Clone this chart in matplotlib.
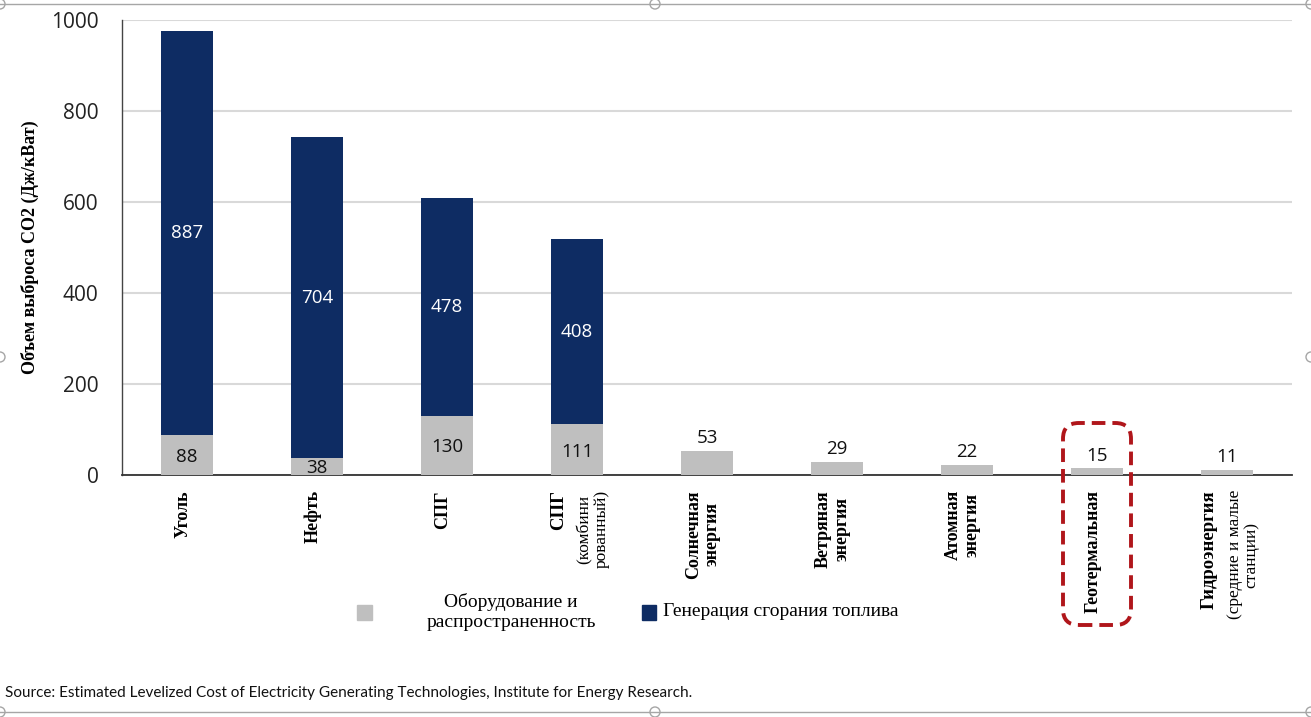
import matplotlib.pyplot as plt
import matplotlib.transforms as mtransforms
from matplotlib.patches import FancyBboxPatch, Rectangle, Circle
from matplotlib.lines import Line2D
import numpy as np

# Данные графика
categorias = ["Уголь", "Нефть", "СПГ", "СПГ", "Солнечная\nэнергия", "Ветряная\nэнергия",
              "Атомная\nэнергия", "Геотермальная", "Гидроэнергия"]
notas = ["", "", "", "(комбини\nрованный)", "", "", "", "", "(средние и малые\nстанции)"]
equipo = [88, 38, 130, 111, 53, 29, 22, 15, 11]
combustion = [887, 704, 478, 408, 0, 0, 0, 0, 0]
yticks = [0, 200, 400, 600, 800, 1000]

gris = "#BFBFBF"
azul = "#0E2C63"
serif = ["Liberation Serif", "DejaVu Serif"]

W, H = 1311, 717
fig = plt.figure(figsize=(W / 100, H / 100), dpi=100)
ax = fig.add_axes([122 / W, 1 - 475 / H, (1292 - 122) / W, (475 - 20) / H])

x = np.arange(len(categorias))
ax.bar(x, equipo, width=0.4, color=gris, zorder=3)
ax.bar(x, combustion, width=0.4, bottom=equipo, color=azul, zorder=3)

ax.set_xlim(-0.5, len(categorias) - 0.5)
ax.set_ylim(0, 1000)
ax.set_yticks(yticks)
ax.tick_params(axis="y", length=0, pad=17, labelsize=15, labelcolor="#222222")
for lab in ax.get_yticklabels():
    lab.set_family("Open Sans")
ax.set_xticks([])
ax.grid(axis="y", color="#D9D9D9", linewidth=1.5, zorder=0)
for s in ["top", "right"]:
    ax.spines[s].set_visible(False)
ax.spines["left"].set_color("#444444")
ax.spines["bottom"].set_color("#333333")
ax.spines["left"].set_linewidth(1.0)
ax.spines["bottom"].set_linewidth(1.3)

ax.set_ylabel("Объем выброса СО2 (Дж/кВат)", family=serif, fontweight="bold",
              fontsize=13, labelpad=0)
ax.yaxis.set_label_coords(-0.071, 0.5)

# Подписи значений
for i in range(len(x)):
    if combustion[i] > 0:
        ax.text(x[i], equipo[i] / 2 - 4, str(equipo[i]), ha="center", va="center",
                fontsize=13.5, family="Open Sans", color="#111111", zorder=4)
        ax.text(x[i], equipo[i] + combustion[i] / 2, str(combustion[i]), ha="center",
                va="center", fontsize=13.5, family="Open Sans", color="white", zorder=4)
    else:
        ax.text(x[i], equipo[i] + 8, str(equipo[i]), ha="center", va="bottom",
                fontsize=13.5, family="Open Sans", color="#111111", zorder=4)

# Подписи категорий (повернутые)
base = ax.get_xaxis_transform()
for i in range(len(x)):
    if notas[i]:
        t1 = mtransforms.offset_copy(base, fig=fig, x=-18, y=0, units="dots")
        t2 = mtransforms.offset_copy(base, fig=fig, x=16, y=0, units="dots")
        ax.text(x[i], -0.033, categorias[i], transform=t1, rotation=90, ha="center",
                va="top", family=serif, fontweight="bold", fontsize=13.5)
        ax.text(x[i], -0.033, notas[i], transform=t2, rotation=90, ha="center",
                va="top", family=serif, fontsize=12.5, linespacing=1.05)
    else:
        t1 = mtransforms.offset_copy(base, fig=fig, x=-4, y=0, units="dots")
        ax.text(x[i], -0.033, categorias[i], transform=t1, rotation=90, ha="center",
                va="top", family=serif, fontweight="bold", fontsize=13,
                linespacing=1.15)

# Легенда
ftr = fig.transFigure
fig.patches.append(Rectangle((357 / W, 1 - 620 / H), 15 / W, 15 / H, transform=ftr,
                             color=gris, figure=fig))
fig.text(511 / W, 1 - 612 / H, "Оборудование и\nраспространенность", ha="center",
         va="center", family=serif, fontsize=14, linespacing=1.3)
fig.patches.append(Rectangle((642 / W, 1 - 620 / H), 14 / W, 15 / H, transform=ftr,
                             color=azul, figure=fig))
fig.text(663 / W, 1 - 612 / H, "Генерация сгорания топлива", ha="left", va="center",
         family=serif, fontsize=14)

# Красная рамка вокруг геотермальной
caja = FancyBboxPatch((1063 / W, 1 - 625 / H), 68 / W, 202 / H, transform=ftr,
                      boxstyle="round,pad=0,rounding_size=0.012", fill=False,
                      edgecolor="#B0161B", linewidth=2.8, linestyle=(0, (3.5, 1.8)),
                      mutation_aspect=W / H, figure=fig)
fig.patches.append(caja)

fig.text(5 / W, 1 - 693 / H,
         "Source: Estimated Levelized Cost of Electricity Generating Technologies, "
         "Institute for Energy Research.", ha="left", va="center", family="Lato",
         fontsize=11, color="#111111")

# Рамка скриншота
for yy in [4, 712]:
    fig.lines.append(Line2D([0, 1], [1 - yy / H] * 2, transform=ftr, color="#A6A6A6",
                            linewidth=1.0))
for (cx, cy) in [(0, 4), (655, 4), (1311, 4), (0, 357), (1311, 357), (0, 712),
                 (655, 712), (1311, 712)]:
    fig.patches.append(Circle((cx, H - cy), 5, transform=None, facecolor="white",
                              edgecolor="#A6A6A6", linewidth=1.0, figure=fig))

fig.savefig("out.png", dpi=100)
